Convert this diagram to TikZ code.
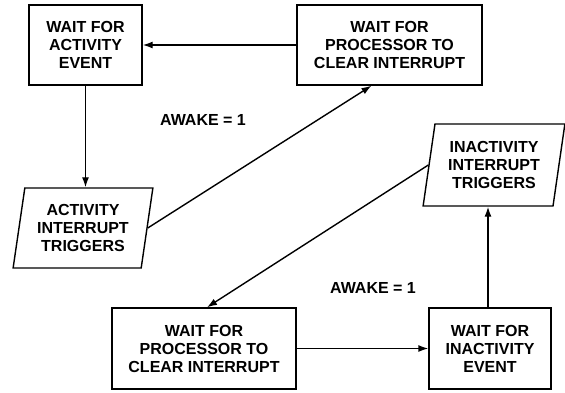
\documentclass[tikz,border=0pt]{standalone}
\usepackage{fontspec}
\setmainfont{Liberation Sans}
\usetikzlibrary{shapes.geometric,arrows.meta}

\begin{document}
\begin{tikzpicture}[x=1pt, y=-1pt, >={Latex[length=10pt,width=7pt]},
    font=\fontsize{16}{18}\selectfont\bfseries,
    every path/.style={line width=1.4pt},
    box/.style={rectangle, draw, line width=1.4pt, align=center, inner sep=0pt, minimum height=80pt},
    trig/.style={trapezium, trapezium left angle=79, trapezium right angle=101,
    trapezium stretches=true, draw, line width=1.4pt, align=center, inner sep=0pt,
    minimum width=140pt, minimum height=80pt}]
    \useasboundingbox (0,0) rectangle (565,392);
    \node[box, minimum width=113pt] (actwait) at (85.5,45) {WAIT FOR\\ACTIVITY\\EVENT};
    \node[box, minimum width=185pt] (clrtop) at (389.5,45) {WAIT FOR\\PROCESSOR TO\\CLEAR INTERRUPT};
    \node[trig] (acttrig) at (83,228) {ACTIVITY\\INTERRUPT\\TRIGGERS};
    \node[trig, minimum width=142pt, minimum height=82pt] (inacttrig) at (494,165) {INACTIVITY\\INTERRUPT\\TRIGGERS};
    \node[box, minimum width=184pt, minimum height=81pt] (clrbot) at (204,348.5) {WAIT FOR\\PROCESSOR TO\\CLEAR INTERRUPT};
    \node[box, minimum width=122pt, minimum height=81pt] (inactwait) at (490,348.5) {WAIT FOR\\INACTIVITY\\EVENT};
    \node (awaketop) at (203,120) {AWAKE = 1};
    \node (awakebot) at (373,288) {AWAKE = 1};
    \draw[->] (clrtop) -- (actwait);
    \draw[->] (actwait.south) -- (actwait.south |- acttrig.north);
    \draw[->] (acttrig.east) -- ([xshift=-18pt]clrtop.south);
    \draw[->] (inacttrig.west) -- ([xshift=3pt]clrbot.north);
    \draw[->] (clrbot) -- (inactwait);
    \draw[->] ([xshift=-2pt]inactwait.north) -- ([xshift=-2pt]inactwait.north |- inacttrig.south);
\end{tikzpicture}
\end{document}
